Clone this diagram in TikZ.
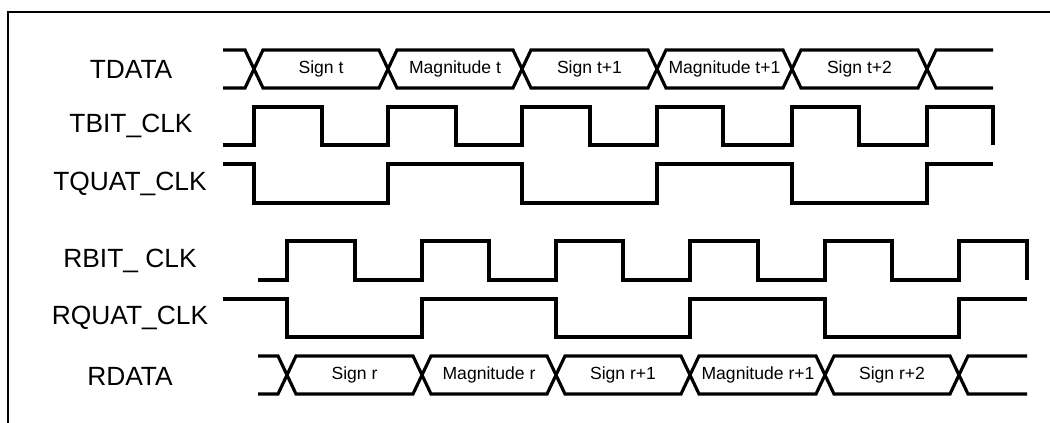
\documentclass[tikz,border=0pt]{standalone}
\usepackage{fontspec}
\setmainfont{Liberation Sans}
\begin{document}
\begin{tikzpicture}[
    sig/.style={line width=1.8pt},
    frm/.style={line width=1.1pt},
    lbl/.style={font=\fontsize{15}{17}\selectfont},
    val/.style={font=\fontsize{10}{12}\selectfont}]
          \useasboundingbox (0,0) rectangle (21,8.46);
          \draw[frm] (0.16,0) -- (0.16,8.22) -- (21,8.22);

          \node[lbl] (ntdata) at (2.62,7.08) {TDATA};
          \node[lbl] (ntbit) at (2.62,5.94) {TBIT\_CLK};
          \node[lbl] (ntquat) at (2.60,4.78) {TQUAT\_CLK};
          \node[lbl] (nrbit) at (2.60,3.24) {RBIT\_ CLK};
          \node[lbl] (nrquat) at (2.60,2.10) {RQUAT\_CLK};
          \node[lbl] (nrdata) at (2.60,0.94) {RDATA};

          % transmit side
          \draw[sig] (4.46,7.46) -- (4.90,7.46) -- (5.26,6.70) -- (7.58,6.70) -- (7.94,7.46) -- (10.26,7.46) -- (10.62,6.70) -- (12.96,6.70) -- (13.32,7.46) -- (15.66,7.46) -- (16.02,6.70) -- (18.36,6.70) -- (18.72,7.46) -- (19.86,7.46);
          \draw[sig] (4.46,6.70) -- (4.90,6.70) -- (5.26,7.46) -- (7.58,7.46) -- (7.94,6.70) -- (10.26,6.70) -- (10.62,7.46) -- (12.96,7.46) -- (13.32,6.70) -- (15.66,6.70) -- (16.02,7.46) -- (18.36,7.46) -- (18.72,6.70) -- (19.86,6.70);
          \node[val] (st0) at (6.42,7.08) {Sign t};
          \node[val] (mt0) at (9.10,7.08) {Magnitude t};
          \node[val] (st1) at (11.79,7.08) {Sign t+1};
          \node[val] (mt1) at (14.49,7.08) {Magnitude t+1};
          \node[val] (st2) at (17.19,7.08) {Sign t+2};

          \draw[sig] (4.46,5.56) -| (5.08,6.32) -| (6.44,5.56) -| (7.76,6.32) -| (9.12,5.56) -| (10.44,6.32) -| (11.80,5.56) -| (13.14,6.32) -| (14.46,5.56) -| (15.84,6.32) -| (17.18,5.56) -| (18.54,6.32) -| (19.86,5.56);
          \draw[sig] (4.46,5.18) -| (5.08,4.40) -| (7.76,5.18) -| (10.44,4.40) -| (13.14,5.18) -| (15.84,4.40) -| (18.54,5.18) -- (19.86,5.18);

          % receive side
          \draw[sig] (5.16,2.86) -| (5.74,3.64) -| (7.10,2.86) -| (8.44,3.64) -| (9.78,2.86) -| (11.12,3.64) -| (12.46,2.86) -| (13.80,3.64) -| (15.16,2.86) -| (16.50,3.64) -| (17.84,2.86) -| (19.18,3.64) -| (20.54,2.86);
          \draw[sig] (4.46,2.48) -| (5.74,1.72) -| (8.44,2.48) -| (11.12,1.72) -| (13.80,2.48) -| (16.50,1.72) -| (19.18,2.48) -- (20.54,2.48);

          \draw[sig] (5.16,1.34) -- (5.56,1.34) -- (5.92,0.58) -- (8.26,0.58) -- (8.62,1.34) -- (10.94,1.34) -- (11.30,0.58) -- (13.62,0.58) -- (13.98,1.34) -- (16.32,1.34) -- (16.68,0.58) -- (19.00,0.58) -- (19.36,1.34) -- (20.54,1.34);
          \draw[sig] (5.16,0.58) -- (5.56,0.58) -- (5.92,1.34) -- (8.26,1.34) -- (8.62,0.58) -- (10.94,0.58) -- (11.30,1.34) -- (13.62,1.34) -- (13.98,0.58) -- (16.32,0.58) -- (16.68,1.34) -- (19.00,1.34) -- (19.36,0.58) -- (20.54,0.58);
          \node[val] (sr0) at (7.09,0.96) {Sign r};
          \node[val] (mr0) at (9.78,0.96) {Magnitude r};
          \node[val] (sr1) at (12.46,0.96) {Sign r+1};
          \node[val] (mr1) at (15.16,0.96) {Magnitude r+1};
          \node[val] (sr2) at (17.84,0.96) {Sign r+2};
\end{tikzpicture}
\end{document}
